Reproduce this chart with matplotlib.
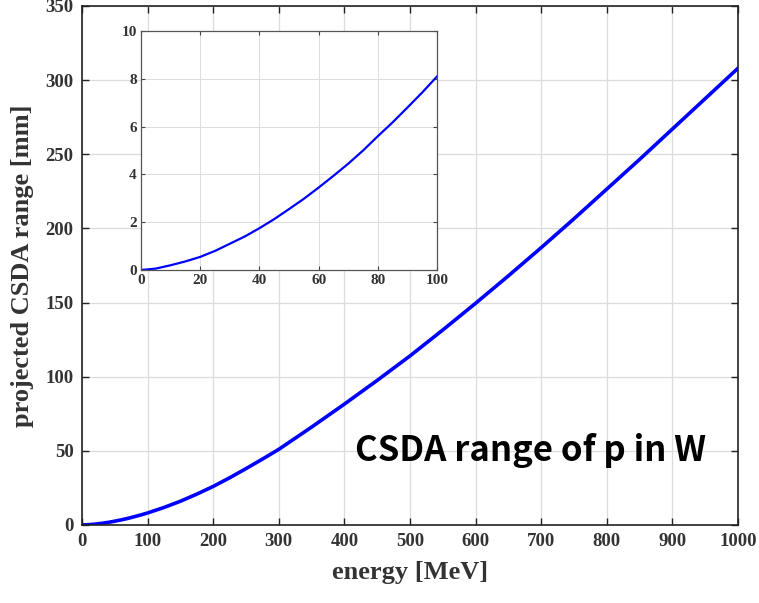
import matplotlib
matplotlib.use("Agg")
import matplotlib.pyplot as plt

# data
energy_main = [0, 10, 20, 30, 40, 50, 60, 70, 80, 90, 100, 125, 150, 175, 200, 225, 250, 275,
               300, 350, 400, 450, 500, 550, 600, 650, 700, 750, 800, 850, 900, 950, 1000]
range_main = [0, 0.2, 0.55, 1.1, 1.75, 2.55, 3.45, 4.45, 5.6, 6.8, 8.1, 11.8, 16, 20.8, 26,
              31.8, 38, 44.4, 51, 66, 81.5, 97.5, 114, 131.5, 149.5, 168, 187, 206.5, 226.5,
              246.5, 267, 287.5, 308]
energy_inset = [0, 5, 10, 15, 20, 25, 30, 35, 40, 45, 50, 55, 60, 65, 70, 75, 80, 85, 90, 95, 100]
range_inset = [0, 0.06, 0.2, 0.36, 0.55, 0.8, 1.1, 1.4, 1.75, 2.13, 2.55, 2.98, 3.45, 3.94,
               4.45, 5.0, 5.6, 6.18, 6.8, 7.43, 8.1]
main_xticks = [0, 100, 200, 300, 400, 500, 600, 700, 800, 900, 1000]
main_yticks = [0, 50, 100, 150, 200, 250, 300, 350]
inset_xticks = [0, 20, 40, 60, 80, 100]
inset_yticks = [0, 2, 4, 6, 8, 10]

serif = "Liberation Serif"
fig = plt.figure(figsize=(7.59, 6.03), dpi=100)
ax = fig.add_axes([0.108, 0.1294, 0.8643, 0.8607])
ax.plot(energy_main, range_main, color="#0000ff", lw=2.6, solid_capstyle="round",
        solid_joinstyle="round")
ax.set_xlim(0, 1000)
ax.set_ylim(0, 350)
ax.set_xticks(main_xticks)
ax.set_yticks(main_yticks)
ax.grid(True, color="#dcdcdc", lw=0.9)
ax.set_axisbelow(True)
ax.tick_params(direction="in", top=True, right=True, length=5, width=1.0,
               colors="#222222", pad=6)
for lab in ax.get_xticklabels() + ax.get_yticklabels():
    lab.set_fontfamily(serif)
    lab.set_fontweight("bold")
    lab.set_fontsize(13.5)
    lab.set_color("#333333")
for s in ax.spines.values():
    s.set_color("#222222")
    s.set_linewidth(1.2)
ax.set_xlabel("energy [MeV]", fontfamily=serif, fontweight="bold", fontsize=19,
              color="#333333", labelpad=8)
ax.set_ylabel("projected CSDA range [mm]", fontfamily=serif, fontweight="bold",
              fontsize=19, color="#333333", labelpad=8)
ax.text(0.683, 0.143, "CSDA range of p in W", transform=ax.transAxes,
        ha="center", va="center", fontsize=25, fontweight="bold",
        fontfamily=["Noto Sans CJK KR", "DejaVu Sans"], color="black")

ins = fig.add_axes([0.1858, 0.5522, 0.39, 0.3963])
ins.plot(energy_inset, range_inset, color="#0000ff", lw=1.6)
ins.set_xlim(0, 100)
ins.set_ylim(0, 10)
ins.set_xticks(inset_xticks)
ins.set_yticks(inset_yticks)
ins.grid(True, color="#dcdcdc", lw=0.7)
ins.set_axisbelow(True)
ins.tick_params(direction="in", top=True, right=True, length=3, width=0.8,
                colors="#444444", pad=3)
for lab in ins.get_xticklabels() + ins.get_yticklabels():
    lab.set_fontfamily(serif)
    lab.set_fontweight("bold")
    lab.set_fontsize(11)
    lab.set_color("#333333")
for s in ins.spines.values():
    s.set_color("#555555")
    s.set_linewidth(0.9)

fig.savefig("out.png", dpi=100)
